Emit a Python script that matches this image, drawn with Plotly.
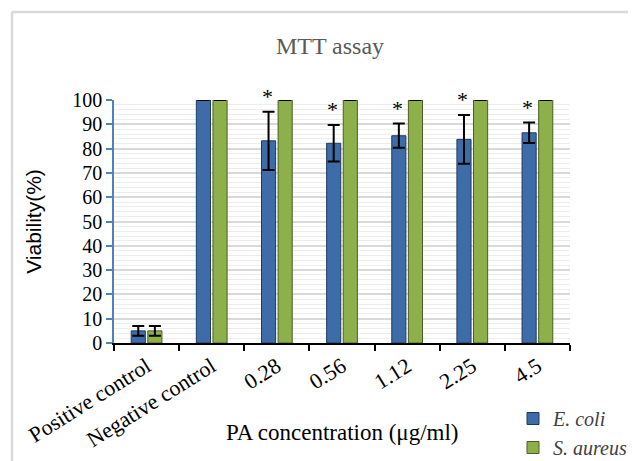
import plotly.graph_objects as go

categories = ["Positive control", "Negative control", "0.28", "0.56", "1.12", "2.25", "4.5"]
ecoli = [5, 100, 83.2, 82.2, 85.3, 83.8, 86.5]
ecoli_err = [2, 0, 12, 7.5, 5, 10, 4.2]
saureus = [5, 100, 100, 100, 100, 100, 100]
saureus_err = [2, 0, 0, 0, 0, 0, 0]
significance = ["", "", "*", "*", "*", "*", "*"]

SERIF = "Liberation Serif"
SANS = "Liberation Sans"

# page body has an 8px margin, so the figure is drawn 8px smaller
W, H = 628, 453
L, T, PW, PH = 106, 92, 456, 243

fig = go.Figure()
fig.add_trace(go.Bar(
    x=categories, y=ecoli, name="<i>E. coli</i>",
    marker=dict(color="#3e6ca8", line=dict(color="#1f3a5f", width=1)),
    error_y=dict(type="data", array=ecoli_err, visible=True, color="black", thickness=2, width=6),
))
fig.add_trace(go.Bar(
    x=categories, y=saureus, name="<i>S. aureus</i>",
    marker=dict(color="#8db04a", line=dict(color="#4b5f24", width=1)),
    error_y=dict(type="data", array=saureus_err, visible=True, color="black", thickness=2, width=6),
))

for i, (v, e, s) in enumerate(zip(ecoli, ecoli_err, significance)):
    if s:
        fig.add_annotation(x=i, y=v + e, text=s, showarrow=False, yanchor="bottom",
                           xshift=-9.5, yshift=1, font=dict(family=SERIF, size=22, color="black"))

def px(x):
    return (x - L) / PW

def py(y):
    return (T + PH - y) / PH

# chart frame (light grey border)
fig.add_shape(type="line", xref="paper", yref="paper", x0=px(4), x1=px(4), y0=py(4), y1=py(H + 20),
              line=dict(color="#d9d9d9", width=2.5))
fig.add_shape(type="line", xref="paper", yref="paper", x0=px(4), x1=px(W + 20), y0=py(4), y1=py(4),
              line=dict(color="#d9d9d9", width=2.5))

# x-axis title
fig.add_annotation(xref="paper", yref="paper", x=0.5, y=py(425), text="PA concentration (μg/ml)",
                   showarrow=False, xanchor="center", yanchor="middle",
                   font=dict(family=SERIF, size=23, color="black"))

fig.update_layout(
    width=W, height=H,
    margin=dict(l=L, r=W - L - PW, t=T, b=H - T - PH, autoexpand=False),
    paper_bgcolor="white", plot_bgcolor="white",
    barmode="group", bargap=0.49, bargroupgap=0.15,
    title=dict(text="MTT assay", x=322 / W, xanchor="center", y=1 - 38 / H, yanchor="middle",
               font=dict(family=SERIF, size=24, color="#595959")),
    showlegend=True,
    legend=dict(x=px(505), y=py(391), xanchor="left", yanchor="top", orientation="v",
                font=dict(family=SERIF, size=20, color="#404040"), bgcolor="rgba(0,0,0,0)",
                itemwidth=30, tracegroupgap=0),
    font=dict(family=SERIF, color="black"),
)
fig.update_xaxes(
    type="category", showgrid=False, showline=True, linecolor="black", linewidth=2,
    ticks="outside", ticklen=6, tickwidth=2, tickcolor="black", tickson="boundaries",
    tickangle=-32, tickfont=dict(family=SERIF, size=22, color="black"), automargin=False,
)
fig.update_yaxes(
    range=[0, 100], dtick=10, showline=True, linecolor="#4f81bd", linewidth=1.5,
    ticks="outside", ticklen=6, tickcolor="#4f81bd", tickwidth=1.5,
    showgrid=True, gridcolor="#d9d9d9", gridwidth=1.5,
    minor=dict(dtick=2, showgrid=True, gridcolor="#ededed", gridwidth=1),
    tickfont=dict(family=SERIF, size=20, color="black"), automargin=False,
    title=dict(text="Viability(%)", font=dict(family=SANS, size=21, color="black"), standoff=25),
    zeroline=False,
)

fig.write_html("out.html")
